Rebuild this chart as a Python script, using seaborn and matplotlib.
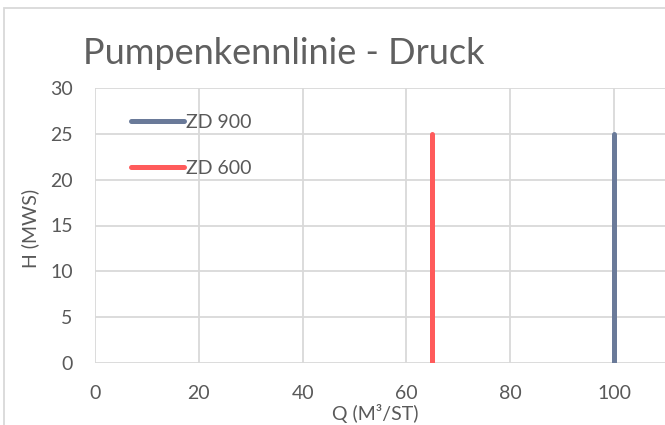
import matplotlib
matplotlib.use("Agg")
import matplotlib.pyplot as plt
import pandas as pd
import seaborn as sns
from matplotlib.patches import Rectangle

# --- data ---
series = ["ZD 900", "ZD 600"]
q_values = {"ZD 900": [100, 100], "ZD 600": [65, 65]}
h_values = {"ZD 900": [0, 25], "ZD 600": [0, 25]}
colors = {"ZD 900": "#6A7A99", "ZD 600": "#FF5B5B"}
x_ticks = [0, 20, 40, 60, 80, 100]
y_ticks = [0, 5, 10, 15, 20, 25, 30]

rows = []
for name in series:
    for q, h in zip(q_values[name], h_values[name]):
        rows.append({"Q": q, "H": h, "Serie": name})
df = pd.DataFrame(rows)

sns.set_style("white")
plt.rcParams["font.family"] = ["Lato", "DejaVu Sans"]
text_col = "#595959"
grid_col = "#D9D9D9"
fs = 14

fig = plt.figure(figsize=(6.65, 4.25), dpi=100)
ax = fig.add_axes([95 / 665, 1 - 363 / 425, 622.8 / 665, 275 / 425])

sns.lineplot(data=df, x="Q", y="H", hue="Serie", hue_order=series, palette=colors,
             estimator=None, sort=False, linewidth=3.6, ax=ax,
             solid_capstyle="round")

ax.set_xlim(0, 120)
ax.set_ylim(0, 30)
ax.set_xticks(x_ticks)
ax.set_yticks(y_ticks)
ax.grid(True, color=grid_col, linewidth=1.3)
ax.set_axisbelow(True)
for s in ax.spines.values():
    s.set_visible(False)
ax.tick_params(axis="both", length=0, labelsize=fs, labelcolor=text_col)
ax.tick_params(axis="x", pad=16)
ax.tick_params(axis="y", pad=16)

ax.set_xlabel("Q (M³/ST)", fontsize=fs, color=text_col)
ax.set_ylabel("H (MWS)", fontsize=fs, color=text_col)
ax.xaxis.set_label_coords(0.45, -0.148)
ax.yaxis.set_label_coords(-0.09, 0.49)

leg = ax.legend(loc="upper left", bbox_to_anchor=(0.03, 0.97), frameon=False,
                fontsize=fs, handlelength=2.7, handletextpad=0.1, labelspacing=1.5)
for t in leg.get_texts():
    t.set_color(text_col)

fig.text(0.427, 1 - 54 / 425, "Pumpenkennlinie - Druck", ha="center", va="center",
         fontsize=26, color="#606060")

fig.patches.append(Rectangle((4 / 665, -0.2), 1.2, 1.2 - 8 / 425,
                             transform=fig.transFigure, fill=False,
                             edgecolor=grid_col, linewidth=1.3))

fig.savefig("out.png", dpi=100)
